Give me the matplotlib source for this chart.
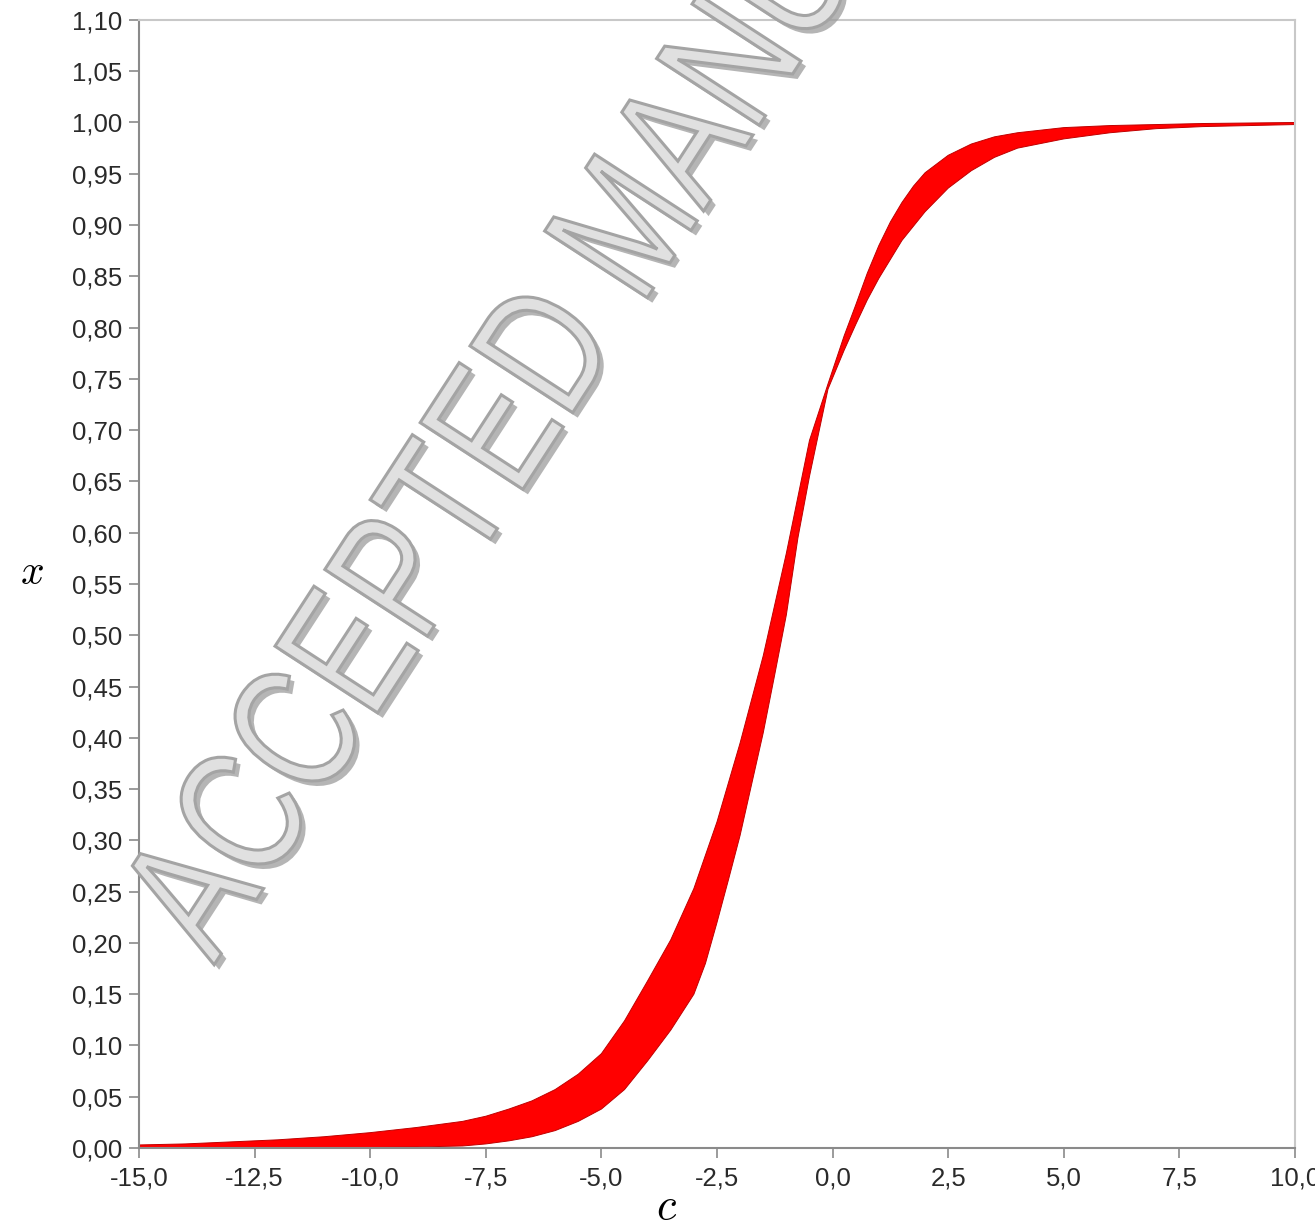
import numpy as np
import matplotlib
matplotlib.use("Agg")
import matplotlib.pyplot as plt
from matplotlib.textpath import TextPath
from matplotlib.patches import PathPatch
from matplotlib.font_manager import FontProperties
from matplotlib.transforms import Affine2D
from matplotlib.ticker import MultipleLocator, FuncFormatter

# left (higher) boundary of the solution band, x(c)
c_upper = [-15.0, -14.0, -13.0, -12.0, -11.0, -10.0, -9.0, -8.0, -7.5, -7.0, -6.5,
           -6.0, -5.5, -5.0, -4.5, -4.0, -3.5, -3.0, -2.5, -2.0, -1.5, -1.0, -0.5,
           -0.1, 0.25, 0.5, 0.75, 1.0, 1.25, 1.5, 1.75, 2.0, 2.5, 3.0, 3.5, 4.0,
           5.0, 6.0, 7.0, 8.0, 10.0]
x_upper = [0.003, 0.004, 0.006, 0.008, 0.011, 0.015, 0.020, 0.026, 0.031, 0.038,
           0.046, 0.057, 0.072, 0.092, 0.124, 0.163, 0.203, 0.253, 0.318, 0.395,
           0.480, 0.580, 0.690, 0.745, 0.792, 0.822, 0.853, 0.880, 0.903, 0.922,
           0.938, 0.951, 0.968, 0.979, 0.986, 0.990, 0.995, 0.997, 0.998, 0.999,
           1.000]

# right (lower) boundary of the solution band
c_lower = [-15.0, -10.0, -9.0, -8.0, -7.5, -7.0, -6.5, -6.0, -5.5, -5.0, -4.5,
           -4.0, -3.5, -3.0, -2.75, -2.5, -2.25, -2.0, -1.75, -1.5, -1.25, -1.0,
           -0.75, -0.5, -0.1, 0.25, 0.5, 0.75, 1.0, 1.5, 2.0, 2.5, 3.0, 3.5, 4.0,
           5.0, 6.0, 7.0, 8.0, 10.0]
x_lower = [0.0005, 0.0005, 0.001, 0.002, 0.004, 0.007, 0.011, 0.017, 0.026, 0.038,
           0.057, 0.085, 0.115, 0.150, 0.180, 0.220, 0.262, 0.305, 0.355, 0.405,
           0.462, 0.520, 0.595, 0.655, 0.740, 0.778, 0.803, 0.827, 0.848, 0.885,
           0.913, 0.936, 0.953, 0.966, 0.975, 0.984, 0.990, 0.994, 0.996, 0.998]

fig = plt.figure(figsize=(13.15, 12.31), dpi=100)
ax = fig.add_axes([0.1057, 0.0674, 0.8791, 0.9164])

# band = closed polygon along one boundary and back along the other
ax.fill(np.r_[c_upper, c_lower[::-1]], np.r_[x_upper, x_lower[::-1]],
        facecolor="#ff0000", edgecolor="#c00000", linewidth=0.7, zorder=2)

ax.set_xlim(-15, 10)
ax.set_ylim(0, 1.10)
ax.xaxis.set_major_locator(MultipleLocator(2.5))
ax.yaxis.set_major_locator(MultipleLocator(0.05))
ax.xaxis.set_major_formatter(FuncFormatter(lambda v, p: f"{v:.1f}".replace(".", ",")))
ax.yaxis.set_major_formatter(FuncFormatter(lambda v, p: f"{v:.2f}".replace(".", ",")))

for lab in ax.get_xticklabels() + ax.get_yticklabels():
    lab.set_fontfamily("Liberation Sans")
ax.tick_params(axis="both", direction="out", length=7, width=1.2, color="#8a8a8a",
               labelsize=18.5, labelcolor="#2a2a2a")
ax.tick_params(axis="y", pad=5)
ax.tick_params(axis="x", pad=6)

for side in ["left", "bottom"]:
    ax.spines[side].set_color("#8a8a8a")
    ax.spines[side].set_linewidth(1.5)
for side in ["top", "right"]:
    ax.spines[side].set_color("#c8c8c8")
    ax.spines[side].set_linewidth(1.5)

plt.rcParams["mathtext.fontset"] = "cm"
fig.text(0.024, 0.535, r"$x$", fontsize=30, ha="center", va="center")
fig.text(0.507, 0.020, r"$c$", fontsize=32, ha="center", va="center")

# diagonal stamp: narrowed text outline with a drop shadow, in pixel coords
stamp = TextPath((0, 0), "ACCEPTED MANUSCRIPT", size=178,
                 prop=FontProperties(family="Liberation Sans"))
place = Affine2D().scale(0.77, 1.0).rotate_deg(57).translate(214, 266)
shadow = PathPatch(stamp, transform=place + Affine2D().translate(5, -5),
                   facecolor="#9c9c9c", edgecolor="none", alpha=0.75, zorder=9)
body = PathPatch(stamp, transform=place, facecolor="#e0e0e0",
                 edgecolor="#a4a4a4", linewidth=2.2, zorder=10)
fig.patches.extend([shadow, body])

fig.savefig("out.png", dpi=100)
